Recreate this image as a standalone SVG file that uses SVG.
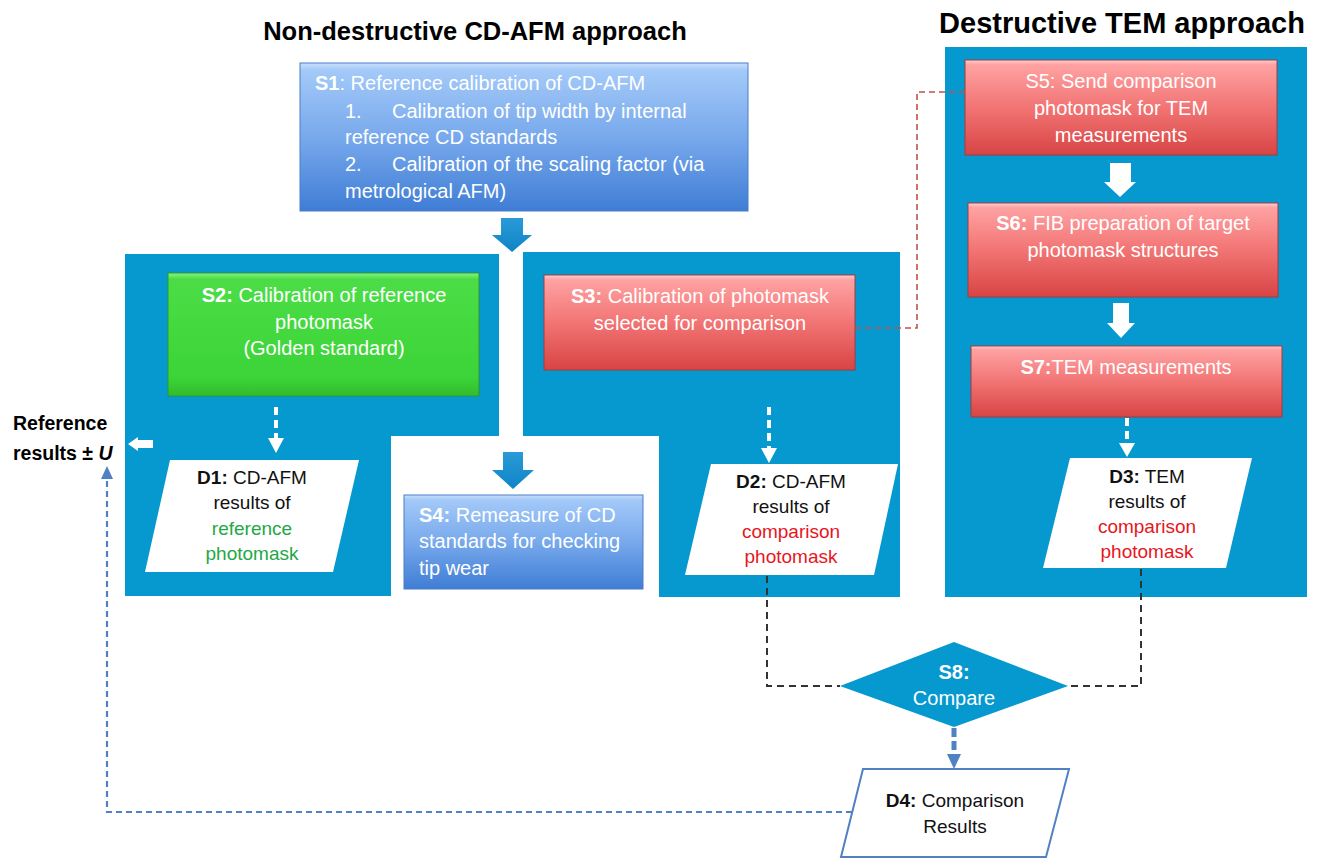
<svg xmlns="http://www.w3.org/2000/svg" width="1320" height="858" viewBox="0 0 1320 858">
<defs>
  <linearGradient id="gBlue" x1="0" y1="0" x2="0" y2="1">
    <stop offset="0" stop-color="#c8e0fc"/>
    <stop offset="0.05" stop-color="#a3c9f8"/>
    <stop offset="0.5" stop-color="#78a9ec"/>
    <stop offset="1" stop-color="#3f7dd5"/>
  </linearGradient>
  <linearGradient id="gRed" x1="0" y1="0" x2="0" y2="1">
    <stop offset="0" stop-color="#ffd0d0"/>
    <stop offset="0.05" stop-color="#ffa2a2"/>
    <stop offset="0.5" stop-color="#f27474"/>
    <stop offset="1" stop-color="#d84444"/>
  </linearGradient>
  <linearGradient id="gGreen" x1="0" y1="0" x2="0" y2="1">
    <stop offset="0" stop-color="#8af285"/>
    <stop offset="0.05" stop-color="#4cdd46"/>
    <stop offset="0.85" stop-color="#3cd438"/>
    <stop offset="1" stop-color="#32bb2e"/>
  </linearGradient>
  <linearGradient id="gArrow" x1="0" y1="0" x2="0" y2="1">
    <stop offset="0" stop-color="#2a9ad8"/>
    <stop offset="1" stop-color="#0f84c6"/>
  </linearGradient>
</defs>
<style>
  text { font-family: "Liberation Sans", Arial, sans-serif; }
  .title { font-weight: bold; fill: #000; }
  .panel { fill: #0599cf; }
  .boxB { fill: url(#gBlue); stroke: #4a7fc6; stroke-width: 1; }
  .boxR { fill: url(#gRed); stroke: #a63a3a; stroke-width: 1; }
  .boxG { fill: url(#gGreen); stroke: #2f9a2b; stroke-width: 1; }
  .wt { font-size: 20px; fill: #ffffff; }
  .dt { font-size: 19px; fill: #111111; text-anchor: middle; }
  .b { font-weight: bold; }
  .grn { fill: #22a845; }
  .red { fill: #e8161e; }
  .data { fill: #ffffff; }
  .bigArrow { fill: url(#gArrow); }
  .wArrow { fill: #ffffff; }
  .wDash { stroke: #ffffff; stroke-width: 4; stroke-dasharray: 8 5; fill: none; }
  .kDash { stroke: #333333; stroke-width: 2; stroke-dasharray: 7 5; fill: none; }
  .rDash { stroke: #c0504d; stroke-width: 1.6; stroke-dasharray: 6 4; fill: none; }
  .bDash { stroke: #4f81c4; stroke-width: 2.2; stroke-dasharray: 6 4; fill: none; }
  .bDashThick { stroke: #4f81c4; stroke-width: 5; stroke-dasharray: 9 4; fill: none; }
</style>
<rect x="0" y="0" width="1320" height="858" fill="#ffffff"/>

<text class="title" x="475" y="40" font-size="25.5" text-anchor="middle">Non-destructive CD-AFM approach</text>
<text class="title" x="1122" y="33" font-size="29" text-anchor="middle">Destructive TEM approach</text>

<g id="panel-left"><polygon class="panel" points="125,254 499,254 499,436 391,436 391,596 125,596"/></g>
<g id="panel-mid"><polygon class="panel" points="523,252 900,252 900,597 659,597 659,436 523,436"/></g>
<g id="panel-right"><rect class="panel" x="945" y="47" width="362" height="550"/></g>

<g id="S1">
  <rect class="boxB" x="300" y="63" width="448" height="148"/>
  <text class="wt" font-size="20.4" x="315" y="90"><tspan class="b">S1</tspan>: Reference calibration of CD-AFM</text>
  <text class="wt" font-size="20.4" x="345" y="118">1.</text>
  <text class="wt" font-size="20.4" x="392" y="118">Calibration of tip width by internal</text>
  <text class="wt" font-size="20.4" x="345" y="144">reference CD standards</text>
  <text class="wt" font-size="20.4" x="345" y="171">2.</text>
  <text class="wt" font-size="20.4" x="392" y="171">Calibration of the scaling factor (via</text>
  <text class="wt" font-size="20.4" x="345" y="198">metrological AFM)</text>
</g>

<g id="S2">
  <rect class="boxG" x="168" y="273" width="311" height="123"/>
  <text class="wt" x="324" y="302" text-anchor="middle"><tspan class="b">S2:</tspan> Calibration of reference</text>
  <text class="wt" x="324" y="329" text-anchor="middle">photomask</text>
  <text class="wt" x="324" y="355" text-anchor="middle">(Golden standard)</text>
</g>

<g id="S3">
  <rect class="boxR" x="544" y="275" width="311" height="95"/>
  <text class="wt" x="700" y="303" text-anchor="middle"><tspan class="b">S3:</tspan> Calibration of photomask</text>
  <text class="wt" x="700" y="330" text-anchor="middle">selected for comparison</text>
</g>

<g id="S4">
  <rect class="boxB" x="404" y="495" width="239" height="94"/>
  <text class="wt" x="419" y="522"><tspan class="b">S4:</tspan> Remeasure of CD</text>
  <text class="wt" x="419" y="548">standards for checking</text>
  <text class="wt" x="419" y="575">tip wear</text>
</g>

<g id="S5">
  <rect class="boxR" x="965" y="60" width="312" height="95"/>
  <text class="wt" x="1121" y="88" text-anchor="middle">S5: Send comparison</text>
  <text class="wt" x="1121" y="115" text-anchor="middle">photomask for TEM</text>
  <text class="wt" x="1121" y="142" text-anchor="middle">measurements</text>
</g>

<g id="S6">
  <rect class="boxR" x="968" y="203" width="310" height="94"/>
  <text class="wt" x="1123" y="230" text-anchor="middle"><tspan class="b">S6:</tspan> FIB preparation of target</text>
  <text class="wt" x="1123" y="257" text-anchor="middle">photomask structures</text>
</g>

<g id="S7">
  <rect class="boxR" x="971" y="346" width="311" height="71"/>
  <text class="wt" x="1126" y="374" text-anchor="middle"><tspan class="b">S7:</tspan>TEM measurements</text>
</g>

<g id="D1">
  <polygon class="data" points="170,460 359,460 333,572 145,572"/>
  <text class="dt" x="252" y="484"><tspan class="b">D1:</tspan> CD-AFM</text>
  <text class="dt" x="252" y="509">results of</text>
  <text class="dt grn" x="252" y="535">reference</text>
  <text class="dt grn" x="252" y="560">photomask</text>
</g>

<g id="D2">
  <polygon class="data" points="711,464 898,464 874,575 685,575"/>
  <text class="dt" x="791" y="488"><tspan class="b">D2:</tspan> CD-AFM</text>
  <text class="dt" x="791" y="513">results of</text>
  <text class="dt red" x="791" y="538">comparison</text>
  <text class="dt red" x="791" y="563">photomask</text>
</g>

<g id="D3">
  <polygon class="data" points="1070,458 1252,458 1226,568 1043,568"/>
  <text class="dt" x="1147" y="483"><tspan class="b">D3:</tspan> TEM</text>
  <text class="dt" x="1147" y="508">results of</text>
  <text class="dt red" x="1147" y="533">comparison</text>
  <text class="dt red" x="1147" y="558">photomask</text>
</g>

<g id="S8">
  <polygon fill="#0599cf" points="840,686 954,642 1068,686 954,727"/>
  <text class="wt b" x="954" y="679" text-anchor="middle">S8:</text>
  <text class="wt" x="954" y="705" text-anchor="middle">Compare</text>
</g>

<g id="D4">
  <polygon fill="#ffffff" stroke="#4f81c4" stroke-width="2" points="863,769 1069,769 1046,857 841,857"/>
  <text class="dt" x="955" y="807"><tspan class="b">D4:</tspan> Comparison</text>
  <text class="dt" x="955" y="833">Results</text>
</g>

<g id="reference-results">
  <text x="13" y="430" font-size="19.5" font-weight="bold" fill="#000">Reference</text>
  <text x="13" y="460" font-size="19.5" font-weight="bold" fill="#000">results ± <tspan font-style="italic">U</tspan></text>
</g>

<g id="connectors">
  <!-- S1 to panels -->
  <polygon class="bigArrow" points="501,218 523,218 523,235 532,235 512,252 492,235 501,235"/>
  <!-- to S4 -->
  <polygon class="bigArrow" points="503,452 523,452 523,470 534,470 513,489 492,470 503,470"/>
  <!-- S5 to S6 -->
  <polygon class="wArrow" points="1110,163 1131,163 1131,182 1136,182 1120,197 1104,182 1110,182"/>
  <!-- S6 to S7 -->
  <polygon class="wArrow" points="1113,303 1129,303 1129,323 1135,323 1121,338 1107,323 1113,323"/>
  <!-- S2 to D1 dashed -->
  <line class="wDash" x1="276" y1="407" x2="276" y2="440"/>
  <polygon class="wArrow" points="268,438 284,438 276,453"/>
  <!-- S3 to D2 dashed -->
  <line class="wDash" x1="769" y1="407" x2="769" y2="450"/>
  <polygon class="wArrow" points="761,448 777,448 769,463"/>
  <!-- S7 to D3 dashed -->
  <line class="wDash" x1="1127" y1="418" x2="1127" y2="445"/>
  <polygon class="wArrow" points="1119,443 1135,443 1127,457"/>
  <!-- left white arrow to Reference results -->
  <polygon class="wArrow" points="128,444 138,437 138,440 153,440 153,448 138,448 138,451"/>
  <!-- S3 to S5 red dashed -->
  <polyline class="rDash" points="855,328 917,328 917,92 965,92"/>
  <!-- D2 to S8 -->
  <polyline class="kDash" points="767,576 767,686 840,686"/>
  <!-- D3 to S8 -->
  <polyline class="kDash" points="1141,569 1141,686 1068,686"/>
  <!-- S8 to D4 -->
  <line class="bDashThick" x1="954" y1="728" x2="954" y2="756"/>
  <polygon fill="#4f81c4" points="947,754 961,754 954,769"/>
  <!-- D4 to Reference results -->
  <polyline class="bDash" points="852,812 107,812 107,478"/>
  <polygon fill="#4f81c4" points="101,479 113,479 107,466"/>
</g>
</svg>
